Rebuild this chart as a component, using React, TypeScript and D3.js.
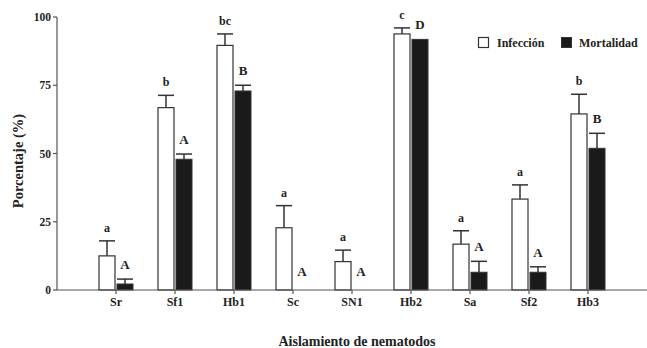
import React from "react";
import * as d3 from "d3";

const categories = ["Sr", "Sf1", "Hb1", "Sc", "SN1", "Hb2", "Sa", "Sf2", "Hb3"];
const infeccion = [12.5, 66.8, 89.6, 22.8, 10.4, 93.8, 16.8, 33.3, 64.5];
const infeccionErr = [5.5, 4.5, 4.2, 8.1, 4.2, 2.2, 4.9, 5.2, 7.2];
const mortalidad = [2.2, 47.9, 72.9, 0, 0, 91.8, 6.5, 6.5, 51.9];
const mortalidadErr = [1.8, 1.9, 2.1, 0, 0, 0, 4.0, 2.0, 5.5];
const letrasInf = ["a", "b", "bc", "a", "a", "c", "a", "a", "b"];
const letrasMort = ["A", "A", "B", "A", "A", "D", "A", "A", "B"];
const yTicks = [0, 25, 50, 75, 100];

const W = 647;
const H = 348;
const FONT = "'Times New Roman', 'Liberation Serif', 'DejaVu Serif', serif";

export default function App() {
  const x = d3.scalePoint<string>().domain(categories).range([57, 647]).padding(1);
  const y = d3.scaleLinear().domain([0, 100]).range([290, 17]);
  const bw = 16;
  const axisColor = "#555";
  const barStroke = "#333";

  return (
    <svg width={W} height={H} style={{ position: "absolute", left: 0, top: 0 }} fontFamily={FONT}>
      <rect width={W} height={H} fill="#fff" />
      {categories.map((c, i) => {
        const cx = x(c)!;
        const xi = cx - 1 - bw;
        const xm = cx + 1;
        const topI = y(infeccion[i] + infeccionErr[i]);
        const topM = y(mortalidad[i] + mortalidadErr[i]);
        return (
          <g key={c}>
            <line x1={xi + bw / 2} x2={xi + bw / 2} y1={y(infeccion[i])} y2={topI} stroke={barStroke} strokeWidth={1.5} />
            <line x1={xi} x2={xi + bw} y1={topI} y2={topI} stroke={barStroke} strokeWidth={1.5} />
            <rect x={xi} y={y(infeccion[i])} width={bw} height={y(0) - y(infeccion[i])} fill="#fff" stroke={barStroke} strokeWidth={1.2} />
            <text x={xi + bw / 2} y={topI - 9} textAnchor="middle" fontSize={12} fontWeight="bold" fill="#222">{letrasInf[i]}</text>
            {mortalidadErr[i] > 0 && (
              <>
                <line x1={xm + bw / 2} x2={xm + bw / 2} y1={y(mortalidad[i])} y2={topM} stroke={barStroke} strokeWidth={1.5} />
                <line x1={xm} x2={xm + bw} y1={topM} y2={topM} stroke={barStroke} strokeWidth={1.5} />
              </>
            )}
            {mortalidad[i] > 0 && (
              <rect x={xm} y={y(mortalidad[i])} width={bw} height={y(0) - y(mortalidad[i])} fill="#1a1a1a" stroke={barStroke} strokeWidth={1} />
            )}
            <text x={xm + bw / 2} y={mortalidad[i] === 0 ? topM - 14 : topM - 10} textAnchor="middle" fontSize={13} fontWeight="bold" fill="#222">{letrasMort[i]}</text>
          </g>
        );
      })}
      <line x1={57} x2={57} y1={y(100)} y2={y(0)} stroke={axisColor} strokeWidth={1.2} />
      {yTicks.map((t) => (
        <g key={t}>
          <line x1={53} x2={57} y1={y(t)} y2={y(t)} stroke={axisColor} strokeWidth={1.2} />
          <text x={51} y={y(t)} dy="0.35em" textAnchor="end" fontSize={11.5} fontWeight="bold" fill="#222">{t}</text>
        </g>
      ))}
      <line x1={57} x2={647} y1={y(0)} y2={y(0)} stroke={axisColor} strokeWidth={1.2} />
      {categories.map((c) => (
        <g key={"t" + c}>
          <line x1={x(c)!} x2={x(c)!} y1={y(0)} y2={y(0) + 4} stroke={axisColor} strokeWidth={1.2} />
          <text x={x(c)!} y={y(0) + 16} textAnchor="middle" fontSize={12} fontWeight="bold" fill="#222">{c}</text>
        </g>
      ))}
      <text transform={`translate(23,161) rotate(-90)`} textAnchor="middle" fontSize={14.5} fontWeight="bold" fill="#222">Porcentaje (%)</text>
      <text x={357} y={346} textAnchor="middle" fontSize={14} fontWeight="bold" fill="#222">Aislamiento de nematodos</text>
      <rect x={478.5} y={37.5} width={10} height={10} fill="#fff" stroke={barStroke} strokeWidth={1.2} />
      <text x={497} y={47} fontSize={12} fontWeight="bold" fill="#222">Infección</text>
      <rect x={561.5} y={37.5} width={10} height={10} fill="#1a1a1a" stroke={barStroke} strokeWidth={1} />
      <text x={579} y={47} fontSize={12} fontWeight="bold" fill="#222">Mortalidad</text>
    </svg>
  );
}
